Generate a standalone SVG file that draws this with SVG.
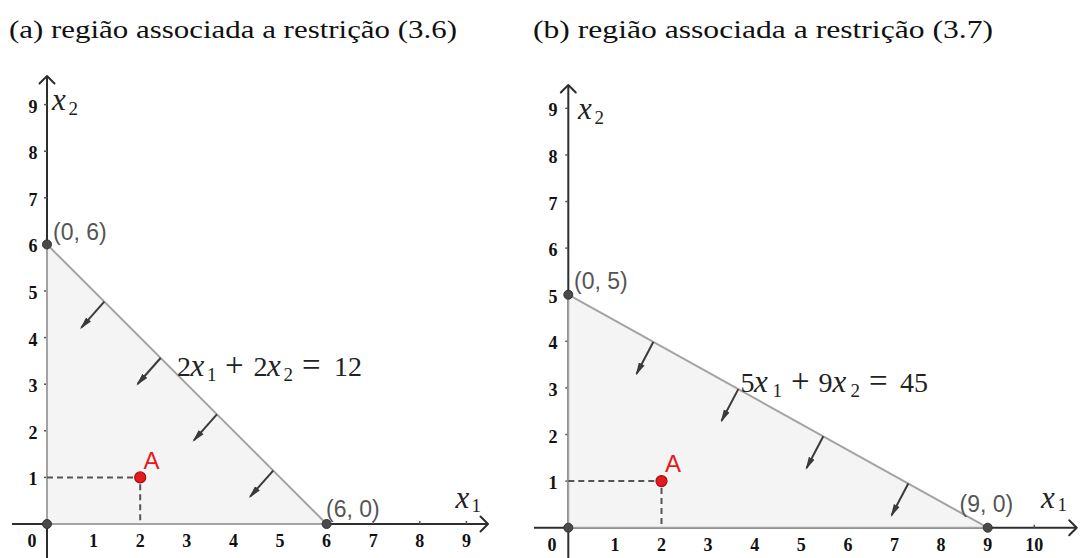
<svg xmlns="http://www.w3.org/2000/svg" width="1080" height="558" viewBox="0 0 1080 558">
<style>
.title{font-family:"Liberation Serif","DejaVu Serif",serif;font-size:25px;fill:#111}
.tick{font-family:"Liberation Serif","DejaVu Serif",serif;font-size:18px;font-weight:bold;fill:#111;text-anchor:middle}
.axis{stroke:#2e2e2e;stroke-width:2;fill:none}
.head{stroke:#2e2e2e;stroke-width:2;fill:none;stroke-linecap:round;stroke-linejoin:round}
.tk{stroke:#555;stroke-width:1.5}
.region{fill:#f4f4f4;stroke:#a3a3a3;stroke-width:2;stroke-linejoin:round}
.dash{stroke:#555;stroke-width:2;stroke-dasharray:6 4;fill:none}
.dot{fill:#4a4a4a;stroke:#333;stroke-width:1}
.pt{fill:#e41a1c;stroke:#a50f0f;stroke-width:1.2}
.plab{font-family:"Liberation Sans",Arial,sans-serif;font-size:23px;fill:#555}
.alab{font-family:"Liberation Sans",Arial,sans-serif;font-size:24px;fill:#e41a1c}
.math{font-family:"Liberation Serif","DejaVu Serif",serif;font-size:28px;fill:#222}
.it{font-style:italic;font-size:31px}
.sub{font-size:19px}
.op{font-size:33px}
.dir{stroke:#3a3a3a;stroke-width:2;fill:none;marker-end:url(#ah)}
</style>
<defs>
<marker id="ah" markerUnits="userSpaceOnUse" markerWidth="13" markerHeight="8" refX="11" refY="4" orient="auto" viewBox="0 0 13 8">
<path d="M0,0.8 L13,4 L0,7.2 z" fill="#3a3a3a"/>
</marker>
</defs>
<rect width="1080" height="558" fill="#fff"/>

<g id="title-a"><text class="title" x="9" y="38" textLength="448" lengthAdjust="spacingAndGlyphs">(a) região associada a restrição (3.6)</text></g>
<g id="title-b"><text class="title" x="533" y="38" textLength="460" lengthAdjust="spacingAndGlyphs">(b) região associada a restrição (3.7)</text></g>

<!-- Panel A -->
<g id="panel-a">
<g id="axes-a">
<line class="axis" x1="47" y1="77" x2="47" y2="558"/>
<line class="axis" x1="12" y1="524" x2="487" y2="524"/>
<polyline class="head" points="39.5,83.5 47,76 54.5,83.5"/>
<polyline class="head" points="480.5,516.5 488,524 480.5,531.5"/>
<g class="tk">
<line x1="93.6" y1="521" x2="93.6" y2="524"/><line x1="140.2" y1="521" x2="140.2" y2="524"/><line x1="186.8" y1="521" x2="186.8" y2="524"/><line x1="233.4" y1="521" x2="233.4" y2="524"/><line x1="280" y1="521" x2="280" y2="524"/><line x1="326.6" y1="521" x2="326.6" y2="524"/><line x1="373.2" y1="521" x2="373.2" y2="524"/><line x1="419.8" y1="521" x2="419.8" y2="524"/><line x1="466.4" y1="521" x2="466.4" y2="524"/>
<line x1="44" y1="477.4" x2="47" y2="477.4"/><line x1="44" y1="430.8" x2="47" y2="430.8"/><line x1="44" y1="384.2" x2="47" y2="384.2"/><line x1="44" y1="337.6" x2="47" y2="337.6"/><line x1="44" y1="291" x2="47" y2="291"/><line x1="44" y1="244.4" x2="47" y2="244.4"/><line x1="44" y1="197.8" x2="47" y2="197.8"/><line x1="44" y1="151.2" x2="47" y2="151.2"/><line x1="44" y1="104.6" x2="47" y2="104.6"/>
</g>
<g class="tick">
<text x="32" y="547">0</text><text x="93.6" y="547">1</text><text x="140.2" y="547">2</text><text x="186.8" y="547">3</text><text x="233.4" y="547">4</text><text x="280" y="547">5</text><text x="326.6" y="547">6</text><text x="373.2" y="547">7</text><text x="419.8" y="547">8</text><text x="466.4" y="547">9</text>
<text x="33" y="485.4">1</text><text x="33" y="438.8">2</text><text x="33" y="392.2">3</text><text x="33" y="345.6">4</text><text x="33" y="299">5</text><text x="33" y="252.4">6</text><text x="33" y="205.8">7</text><text x="33" y="159.2">8</text><text x="33" y="112.6">9</text>
</g>
<text class="math" y="110"><tspan class="it" x="52">x</tspan><tspan class="sub" x="68.5" dy="4.5">2</tspan></text>
<text class="math" y="508.3"><tspan class="it" x="455.5">x</tspan><tspan class="sub" x="471.5" dy="4">1</tspan></text>
</g>
<g id="region-a">
<polygon class="region" points="47,524 47,244.4 326.6,524"/>
</g>
<g id="connectors-a">
<line class="dir" x1="104.3" y1="301.7" x2="81.3" y2="327.7"/>
<line class="dir" x1="160.6" y1="358" x2="137.6" y2="384"/>
<line class="dir" x1="216.9" y1="414.3" x2="193.9" y2="440.3"/>
<line class="dir" x1="273.2" y1="470.6" x2="250.2" y2="496.6"/>
<path class="dash" d="M47,477.4 H140.2 V524"/>
</g>
<g id="points-a">
<circle class="dot" cx="47" cy="524" r="4.5"/>
<circle class="dot" cx="47" cy="244.4" r="4.5"/>
<circle class="dot" cx="326.6" cy="524" r="4.5"/>
<circle class="pt" cx="140.2" cy="477.4" r="5.5"/>
<text class="plab" x="53" y="240">(0, 6)</text>
<text class="plab" x="326" y="516.5">(6, 0)</text>
<text class="alab" x="143.5" y="469">A</text>
</g>
<g id="equation-a">
<text class="math" y="375.5"><tspan x="177">2</tspan><tspan class="it" x="190.5">x</tspan><tspan class="sub" x="207" dy="5">1</tspan><tspan class="op" x="225" dy="-5">+</tspan><tspan x="253.5">2</tspan><tspan class="it" x="267">x</tspan><tspan class="sub" x="283.5" dy="5">2</tspan><tspan class="op" x="302" dy="-5">=</tspan><tspan x="334">12</tspan></text>
</g>
</g>

<!-- Panel B -->
<g id="panel-b">
<g id="axes-b">
<line class="axis" x1="568.3" y1="86" x2="568.3" y2="558"/>
<line class="axis" x1="534" y1="527.7" x2="1076" y2="527.7"/>
<polyline class="head" points="560.8,92.5 568.3,85 575.8,92.5"/>
<polyline class="head" points="1069.2,520.2 1076.7,527.7 1069.2,535.2"/>
<g class="tk">
<line x1="614.9" y1="524.7" x2="614.9" y2="527.7"/><line x1="661.5" y1="524.7" x2="661.5" y2="527.7"/><line x1="708.1" y1="524.7" x2="708.1" y2="527.7"/><line x1="754.7" y1="524.7" x2="754.7" y2="527.7"/><line x1="801.3" y1="524.7" x2="801.3" y2="527.7"/><line x1="847.9" y1="524.7" x2="847.9" y2="527.7"/><line x1="894.5" y1="524.7" x2="894.5" y2="527.7"/><line x1="941.1" y1="524.7" x2="941.1" y2="527.7"/><line x1="987.7" y1="524.7" x2="987.7" y2="527.7"/><line x1="1034.3" y1="524.7" x2="1034.3" y2="527.7"/>
<line x1="565.3" y1="481.1" x2="568.3" y2="481.1"/><line x1="565.3" y1="434.5" x2="568.3" y2="434.5"/><line x1="565.3" y1="387.9" x2="568.3" y2="387.9"/><line x1="565.3" y1="341.3" x2="568.3" y2="341.3"/><line x1="565.3" y1="294.7" x2="568.3" y2="294.7"/><line x1="565.3" y1="248.1" x2="568.3" y2="248.1"/><line x1="565.3" y1="201.5" x2="568.3" y2="201.5"/><line x1="565.3" y1="154.9" x2="568.3" y2="154.9"/><line x1="565.3" y1="108.3" x2="568.3" y2="108.3"/>
</g>
<g class="tick">
<text x="552" y="551">0</text><text x="614.9" y="551">1</text><text x="661.5" y="551">2</text><text x="708.1" y="551">3</text><text x="754.7" y="551">4</text><text x="801.3" y="551">5</text><text x="847.9" y="551">6</text><text x="894.5" y="551">7</text><text x="941.1" y="551">8</text><text x="987.7" y="551">9</text><text x="1034.3" y="551">10</text>
<text x="553" y="489.1">1</text><text x="553" y="442.5">2</text><text x="553" y="395.9">3</text><text x="553" y="349.3">4</text><text x="553" y="302.7">5</text><text x="553" y="256.1">6</text><text x="553" y="209.5">7</text><text x="553" y="162.9">8</text><text x="553" y="116.3">9</text>
</g>
<text class="math" y="119.3"><tspan class="it" x="578">x</tspan><tspan class="sub" x="594.5" dy="4.5">2</tspan></text>
<text class="math" y="508.3"><tspan class="it" x="1041">x</tspan><tspan class="sub" x="1057.5" dy="3">1</tspan></text>
</g>
<g id="region-b">
<polygon class="region" points="568.3,527.7 568.3,294.7 987.7,527.7"/>
</g>
<g id="connectors-b">
<line class="dir" x1="653.3" y1="342" x2="636.6" y2="373.7"/>
<line class="dir" x1="738.3" y1="389.1" x2="721.6" y2="420.8"/>
<line class="dir" x1="823.3" y1="436.3" x2="806.6" y2="468"/>
<line class="dir" x1="908.3" y1="483.5" x2="891.6" y2="515.2"/>
<path class="dash" d="M568.3,481.1 H661.5 V527.7"/>
</g>
<g id="points-b">
<circle class="dot" cx="568.3" cy="527.7" r="4.5"/>
<circle class="dot" cx="568.3" cy="294.7" r="4.5"/>
<circle class="dot" cx="987.7" cy="527.7" r="4.5"/>
<circle class="pt" cx="661.5" cy="481.1" r="5.5"/>
<text class="plab" x="574" y="289.3">(0, 5)</text>
<text class="plab" x="959.5" y="511.7">(9, 0)</text>
<text class="alab" x="665" y="471.5">A</text>
</g>
<g id="equation-b">
<text class="math" y="391.7"><tspan x="740.5">5</tspan><tspan class="it" x="754">x</tspan><tspan class="sub" x="772.5" dy="5">1</tspan><tspan class="op" x="791" dy="-5">+</tspan><tspan x="818.5">9</tspan><tspan class="it" x="832.5">x</tspan><tspan class="sub" x="850.5" dy="5">2</tspan><tspan class="op" x="869" dy="-5">=</tspan><tspan x="900">45</tspan></text>
</g>
</g>
</svg>
